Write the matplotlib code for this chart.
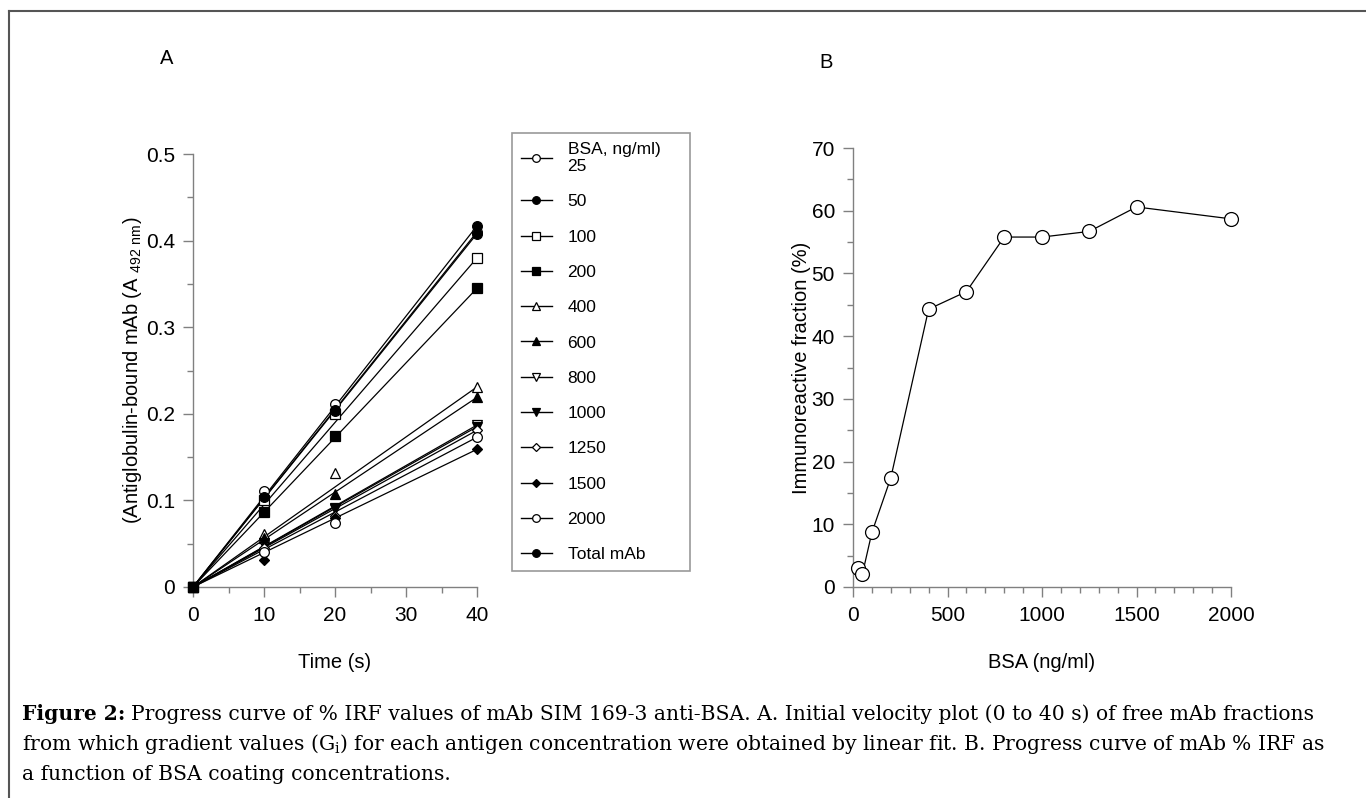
import numpy as np
import matplotlib
matplotlib.use('Agg')
import matplotlib.pyplot as plt
from matplotlib.lines import Line2D

plt.rcParams['font.family'] = ['Liberation Sans', 'DejaVu Sans']
plt.rcParams['mathtext.fontset'] = 'custom'
plt.rcParams['mathtext.rm'] = 'Liberation Sans'

# panel A: absorbance vs time for each BSA coating concentration
time_s = [0, 10, 20, 40]
bsa_labels = ['BSA, ng/ml)\n25', '50', '100', '200', '400', '600', '800',
              '1000', '1250', '1500', '2000', 'Total mAb']
abs_25 = [0, 0.111, 0.211, 0.410]
abs_50 = [0, 0.102, 0.204, 0.408]
abs_100 = [0, 0.101, 0.200, 0.380]
abs_200 = [0, 0.087, 0.174, 0.345]
abs_400 = [0, 0.061, 0.132, 0.231]
abs_600 = [0, 0.057, 0.107, 0.219]
abs_800 = [0, 0.049, 0.090, 0.187]
abs_1000 = [0, 0.051, 0.091, 0.185]
abs_1250 = [0, 0.045, 0.082, 0.181]
abs_1500 = [0, 0.031, 0.080, 0.159]
abs_2000 = [0, 0.040, 0.074, 0.173]
abs_total = [0, 0.104, 0.203, 0.417]

# panel B: immunoreactive fraction vs BSA
bsa_conc = [25, 50, 100, 200, 400, 600, 800, 1000, 1250, 1500, 2000]
irf_pct = [3.0, 2.1, 8.7, 17.4, 44.3, 47.1, 55.8, 55.8, 56.7, 60.6, 58.7]

series = [abs_25, abs_50, abs_100, abs_200, abs_400, abs_600, abs_800,
          abs_1000, abs_1250, abs_1500, abs_2000, abs_total]
# (marker, filled, size scale)
styles = [('o', False, 1.0), ('o', True, 1.0), ('s', False, 0.95), ('s', True, 0.95),
          ('^', False, 1.05), ('^', True, 1.05), ('v', False, 1.05), ('v', True, 1.05),
          ('D', False, 0.75), ('D', True, 0.75), ('o', False, 1.0), ('o', True, 1.0)]

W, H = 1366, 798
fig = plt.figure(figsize=(W / 100, H / 100), dpi=100)

def fx(px):
    return px / W

def fy(py):
    return 1 - py / H

axis_gray = '#808080'

def style_axes(ax):
    for s in ['top', 'right']:
        ax.spines[s].set_visible(False)
    for s in ['left', 'bottom']:
        ax.spines[s].set_color(axis_gray)
        ax.spines[s].set_linewidth(1.0)
    ax.tick_params(which='major', direction='out', length=7, width=1.0,
                   color=axis_gray, labelsize=15)
    ax.tick_params(axis='y', which='major', pad=6)
    ax.tick_params(axis='x', which='major', pad=7)
    ax.tick_params(which='minor', direction='out', length=4, width=1.0,
                   color=axis_gray)

# ---- panel A
axA = fig.add_axes([fx(193), fy(587), fx(477) - fx(193), fy(154) - fy(587)])
handles = []
for ys, (mk, filled, sc) in zip(series, styles):
    t = np.array(time_s)
    y = np.array(ys)
    axA.plot(t[[0, -1]], y[[0, -1]], color='black', lw=0.9, clip_on=False)
    axA.plot(t, y, linestyle='none', marker=mk, ms=7 * sc,
             mfc='black' if filled else 'white', mec='black', mew=0.9,
             clip_on=False, zorder=3)
    handles.append(Line2D([], [], color='black', lw=1.0, marker=mk, ms=5.5 * sc,
                          mfc='black' if filled else 'white', mec='black', mew=0.9))

axA.set_xlim(0, 40)
axA.set_ylim(0, 0.5)
axA.set_xticks([0, 10, 20, 30, 40])
axA.set_xticks([5, 15, 25, 35], minor=True)
axA.set_yticks([0, 0.1, 0.2, 0.3, 0.4, 0.5])
axA.set_yticklabels(['0', '0.1', '0.2', '0.3', '0.4', '0.5'])
axA.set_yticks([0.05, 0.15, 0.25, 0.35, 0.45], minor=True)
style_axes(axA)
axA.set_xlabel('Time (s)', fontsize=14.5, labelpad=20)
axA.set_ylabel(r'(Antiglobulin-bound mAb (A $_{\mathregular{492\ nm}}$)', fontsize=14.5, labelpad=1)

leg = axA.legend(handles, bsa_labels, loc='upper left',
                 bbox_to_anchor=(fx(512), fy(577), fx(690) - fx(512), fy(133) - fy(577)),
                 bbox_transform=fig.transFigure, mode='expand', borderaxespad=0,
                 fontsize=12.5, frameon=True, fancybox=False, handlelength=1.8,
                 handletextpad=0.9, labelspacing=1.16, borderpad=0.5)
leg.get_frame().set_edgecolor(axis_gray)
leg.get_frame().set_linewidth(1.2)

# ---- panel B
axB = fig.add_axes([fx(853), fy(587), fx(1231) - fx(853), fy(148) - fy(587)])
axB.plot(bsa_conc, irf_pct, color='black', lw=0.9, marker='o', ms=10,
         mfc='white', mec='black', mew=0.9, clip_on=False, zorder=3)
axB.set_xlim(0, 2000)
axB.set_ylim(0, 70)
axB.set_xticks([0, 500, 1000, 1500, 2000])
axB.set_xticks(np.arange(100, 2000, 100), minor=True)
axB.set_yticks(np.arange(0, 71, 10))
axB.set_yticks(np.arange(5, 70, 10), minor=True)
style_axes(axB)
axB.set_xlabel('BSA (ng/ml)', fontsize=14.5, labelpad=20)
axB.set_ylabel('Immunoreactive fraction (%)', fontsize=14.5, labelpad=0.5)

fig.text(fx(167), fy(58), 'A', fontsize=14.5, ha='center', va='center')
fig.text(fx(826), fy(62), 'B', fontsize=14.5, ha='center', va='center')

# ---- frame lines (left and top)
border = '#555555'
fig.add_artist(Line2D([fx(9), fx(9)], [0, fy(11)], color=border, lw=1.5))
fig.add_artist(Line2D([fx(9), 1], [fy(11), fy(11)], color=border, lw=1.5))

# ---- caption
cap_font = ['DejaVu Serif']
cap_size = 14.6
renderer = fig.canvas.get_renderer()
head = fig.text(fx(22), fy(714), 'Figure 2:', fontsize=cap_size, fontweight='bold',
                family=cap_font, va='center')
head_end = head.get_window_extent(renderer).x1
fig.text((head_end + 6) / W, fy(714),
         'Progress curve of % IRF values of mAb SIM 169-3 anti-BSA. A. Initial velocity plot '
         '(0 to 40 s) of free mAb fractions',
         fontsize=cap_size, family=cap_font, va='center')
fig.text(fx(22), fy(744),
         r'from which gradient values (G$_\mathregular{i}$) for each antigen concentration were '
         'obtained by linear fit. B. Progress curve of mAb % IRF as',
         fontsize=cap_size, family=cap_font, va='center')
fig.text(fx(22), fy(774), 'a function of BSA coating concentrations.',
         fontsize=cap_size, family=cap_font, va='center')

fig.savefig('out.png', dpi=100)
